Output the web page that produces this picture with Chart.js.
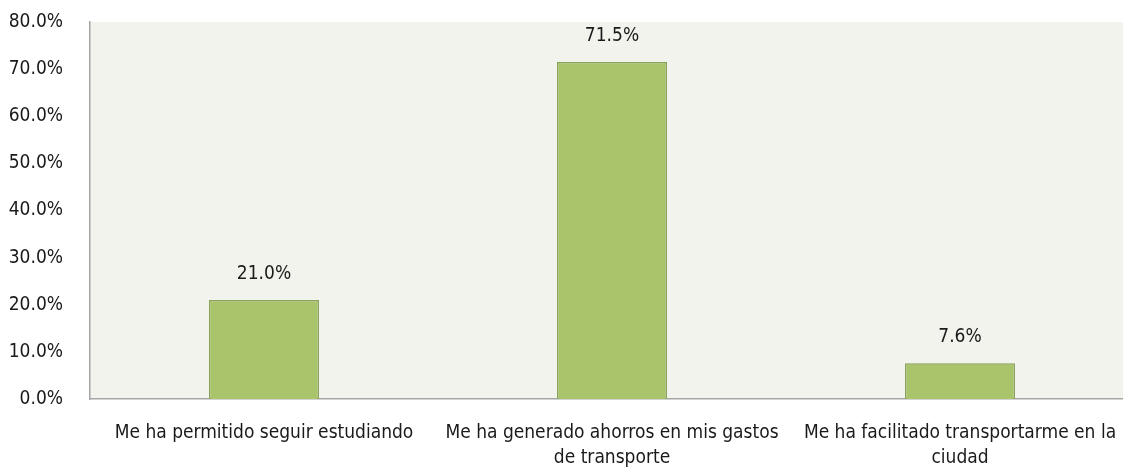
<!DOCTYPE html>
<html>
<head>
<meta charset="utf-8">
<script src="https://cdn.jsdelivr.net/npm/chart.js@4/dist/chart.umd.min.js"></script>
<style>
  html, body { margin: 0; padding: 0; background: #fff; overflow: hidden; }
  #clip { width: 1123px; height: 467px; overflow: hidden; }
  #wrap { width: 1134px; height: 467px; }
</style>
</head>
<body>
<div id="clip"><div id="wrap"><canvas id="chart"></canvas></div></div>
<script>
const categories = [
  'Me ha permitido seguir estudiando',
  ['Me ha generado ahorros en mis gastos', 'de transporte'],
  ['Me ha facilitado transportarme en la', 'ciudad'],
];
const values = [21.0, 71.5, 7.6];
const yTicks = [0, 10, 20, 30, 40, 50, 60, 70, 80];

const FONT = "'DejaVu Sans Condensed', 'Liberation Sans Narrow', sans-serif";

// light plot background
const plotBg = {
  id: 'plotBg',
  beforeDraw(chart) {
    const { ctx, chartArea: a } = chart;
    ctx.save();
    ctx.fillStyle = '#f1f3ec';
    ctx.fillRect(a.left, a.top, a.right - a.left, a.bottom - a.top);
    ctx.restore();
  },
};

// value above each bar
const valueLabels = {
  id: 'valueLabels',
  afterDatasetsDraw(chart) {
    const { ctx } = chart;
    const meta = chart.getDatasetMeta(0);
    ctx.save();
    ctx.font = `19px ${FONT}`;
    ctx.fillStyle = '#1a1a1a';
    ctx.textAlign = 'center';
    ctx.textBaseline = 'middle';
    meta.data.forEach((bar, i) => {
      ctx.fillText(values[i].toFixed(1) + '%', bar.x, bar.y - 26);
    });
    ctx.restore();
  },
};

new Chart(document.getElementById('chart').getContext('2d'), {
  type: 'bar',
  data: {
    labels: categories,
    datasets: [{
      data: values,
      backgroundColor: '#aac46c',
      borderColor: '#88a256',
      borderWidth: 1.5,
      categoryPercentage: 1,
      barPercentage: 0.316,
    }],
  },
  options: {
    responsive: true,
    maintainAspectRatio: false,
    animation: false,
    layout: { padding: { top: 22, left: 0, right: 0, bottom: 0 } },
    plugins: { legend: { display: false }, tooltip: { enabled: false } },
    scales: {
      x: {
        afterFit(axis) {
          axis.height = 68;
          axis.paddingLeft = 0;
          axis.paddingRight = 0;
        },
        grid: { display: false, drawTicks: false },
        border: { color: '#a6a6a6', width: 1.5 },
        ticks: {
          color: '#1a1a1a',
          font: { family: FONT, size: 19, lineHeight: 1.3 },
          padding: 22,
          maxRotation: 0,
          autoSkip: false,
        },
      },
      y: {
        min: 0,
        max: 80,
        afterBuildTicks(axis) { axis.ticks = yTicks.map(v => ({ value: v })); },
        afterFit(axis) {
          axis.width = 90;
          axis.paddingTop = 0;
          axis.paddingBottom = 0;
        },
        grid: { display: false, drawTicks: false },
        border: { color: '#a6a6a6', width: 1.5 },
        ticks: {
          color: '#1a1a1a',
          font: { family: FONT, size: 19 },
          padding: 27,
          callback: v => v.toFixed(1) + '%',
        },
      },
    },
  },
  plugins: [plotBg, valueLabels],
});
</script>
</body>
</html>
